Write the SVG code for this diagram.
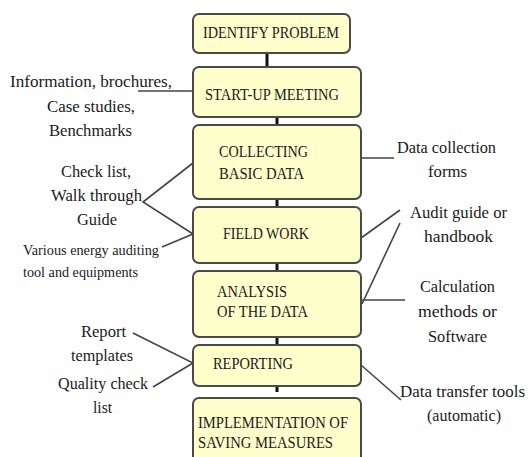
<svg xmlns="http://www.w3.org/2000/svg" width="528" height="457" viewBox="0 0 528 457">
<style>
.box{fill:#ffffcc;stroke:#4a4a4a;stroke-width:2}
.t{font-family:"Liberation Serif","Times New Roman",serif;font-size:16px;fill:#1a1a1a}
.s{font-size:14px}
.m{text-anchor:middle}
.flow{stroke:#111;stroke-width:3;fill:none}
.side{stroke:#444;stroke-width:1.6;fill:none}
</style>
<rect width="528" height="457" fill="#ffffff"/>
<g id="connectors">
<line class="flow" x1="267" y1="53" x2="267" y2="67"/>
<line class="flow" x1="277" y1="117" x2="277" y2="125"/>
<line class="flow" x1="277" y1="199" x2="277" y2="207"/>
<line class="flow" x1="277" y1="263" x2="277" y2="271"/>
<line class="flow" x1="277" y1="337" x2="277" y2="345"/>
<line class="flow" x1="277" y1="386" x2="277" y2="392"/>
<line class="side" x1="138" y1="91" x2="193" y2="91"/>
<polyline class="side" points="193,163 143,202 193,234"/>
<line class="side" x1="162" y1="247" x2="193" y2="234"/>
<polyline class="side" points="133,333 193,363 153,387"/>
<line class="side" x1="361" y1="158" x2="394" y2="158"/>
<line class="side" x1="361" y1="238" x2="400" y2="210"/>
<line class="side" x1="400" y1="223" x2="362" y2="304"/>
<line class="side" x1="361" y1="300" x2="405" y2="300"/>
<line class="side" x1="361" y1="365" x2="401" y2="400"/>
</g>
<g id="identify">
<rect class="box" x="193" y="14" width="157" height="39" rx="6"/>
<text class="t" x="203" y="38" textLength="136" lengthAdjust="spacingAndGlyphs">IDENTIFY PROBLEM</text>
</g>
<g id="startup">
<rect class="box" x="193" y="67" width="168" height="50" rx="6"/>
<text class="t" x="205" y="100" textLength="134" lengthAdjust="spacingAndGlyphs">START-UP MEETING</text>
</g>
<g id="collecting">
<rect class="box" x="193" y="125" width="168" height="74" rx="6"/>
<text class="t" x="219" y="157" textLength="89" lengthAdjust="spacingAndGlyphs">COLLECTING</text>
<text class="t" x="219" y="179" textLength="85" lengthAdjust="spacingAndGlyphs">BASIC DATA</text>
</g>
<g id="fieldwork">
<rect class="box" x="193" y="207" width="168" height="56" rx="6"/>
<text class="t" x="223" y="239" textLength="86" lengthAdjust="spacingAndGlyphs">FIELD WORK</text>
</g>
<g id="analysis">
<rect class="box" x="193" y="271" width="168" height="66" rx="6"/>
<text class="t" x="217" y="297" textLength="70" lengthAdjust="spacingAndGlyphs">ANALYSIS</text>
<text class="t" x="217" y="317" textLength="91" lengthAdjust="spacingAndGlyphs">OF THE DATA</text>
</g>
<g id="reporting">
<rect class="box" x="193" y="345" width="168" height="41" rx="6"/>
<text class="t" x="213" y="369" textLength="80" lengthAdjust="spacingAndGlyphs">REPORTING</text>
</g>
<g id="implementation">
<rect class="box" x="193" y="398" width="168" height="80" rx="6"/>
<text class="t" x="198" y="428" textLength="150" lengthAdjust="spacingAndGlyphs">IMPLEMENTATION OF</text>
<text class="t" x="198" y="448" textLength="135" lengthAdjust="spacingAndGlyphs">SAVING MEASURES</text>
</g>
<g id="label-info">
<text class="t m" x="91" y="87" textLength="162" lengthAdjust="spacingAndGlyphs">Information, brochures,</text>
<text class="t m" x="91" y="112" textLength="88" lengthAdjust="spacingAndGlyphs">Case studies,</text>
<text class="t m" x="90.5" y="136" textLength="83" lengthAdjust="spacingAndGlyphs">Benchmarks</text>
</g>
<g id="label-checklist">
<text class="t m" x="96" y="177" textLength="70" lengthAdjust="spacingAndGlyphs">Check list,</text>
<text class="t m" x="96.5" y="201" textLength="91" lengthAdjust="spacingAndGlyphs">Walk through</text>
<text class="t m" x="97" y="225" textLength="40" lengthAdjust="spacingAndGlyphs">Guide</text>
</g>
<g id="label-tools">
<text class="t s" x="23" y="255" textLength="136" lengthAdjust="spacingAndGlyphs">Various energy auditing</text>
<text class="t s" x="23" y="277" textLength="115" lengthAdjust="spacingAndGlyphs">tool and equipments</text>
</g>
<g id="label-report">
<text class="t m" x="103.5" y="337" textLength="45" lengthAdjust="spacingAndGlyphs">Report</text>
<text class="t m" x="102" y="361" textLength="62" lengthAdjust="spacingAndGlyphs">templates</text>
</g>
<g id="label-quality">
<text class="t m" x="103" y="389" textLength="90" lengthAdjust="spacingAndGlyphs">Quality check</text>
<text class="t m" x="102.5" y="413" textLength="19" lengthAdjust="spacingAndGlyphs">list</text>
</g>
<g id="label-forms">
<text class="t m" x="446.5" y="153" textLength="99" lengthAdjust="spacingAndGlyphs">Data collection</text>
<text class="t m" x="447.5" y="177" textLength="39" lengthAdjust="spacingAndGlyphs">forms</text>
</g>
<g id="label-audit">
<text class="t m" x="458.5" y="218" textLength="97" lengthAdjust="spacingAndGlyphs">Audit guide or</text>
<text class="t m" x="458.5" y="242" textLength="69" lengthAdjust="spacingAndGlyphs">handbook</text>
</g>
<g id="label-calc">
<text class="t m" x="457.5" y="292" textLength="75" lengthAdjust="spacingAndGlyphs">Calculation</text>
<text class="t m" x="457.5" y="317" textLength="79" lengthAdjust="spacingAndGlyphs">methods or</text>
<text class="t m" x="457.5" y="342" textLength="59" lengthAdjust="spacingAndGlyphs">Software</text>
</g>
<g id="label-transfer">
<text class="t m" x="462.5" y="397" textLength="125" lengthAdjust="spacingAndGlyphs">Data transfer tools</text>
<text class="t m" x="464" y="421" textLength="74" lengthAdjust="spacingAndGlyphs">(automatic)</text>
</g>
</svg>
